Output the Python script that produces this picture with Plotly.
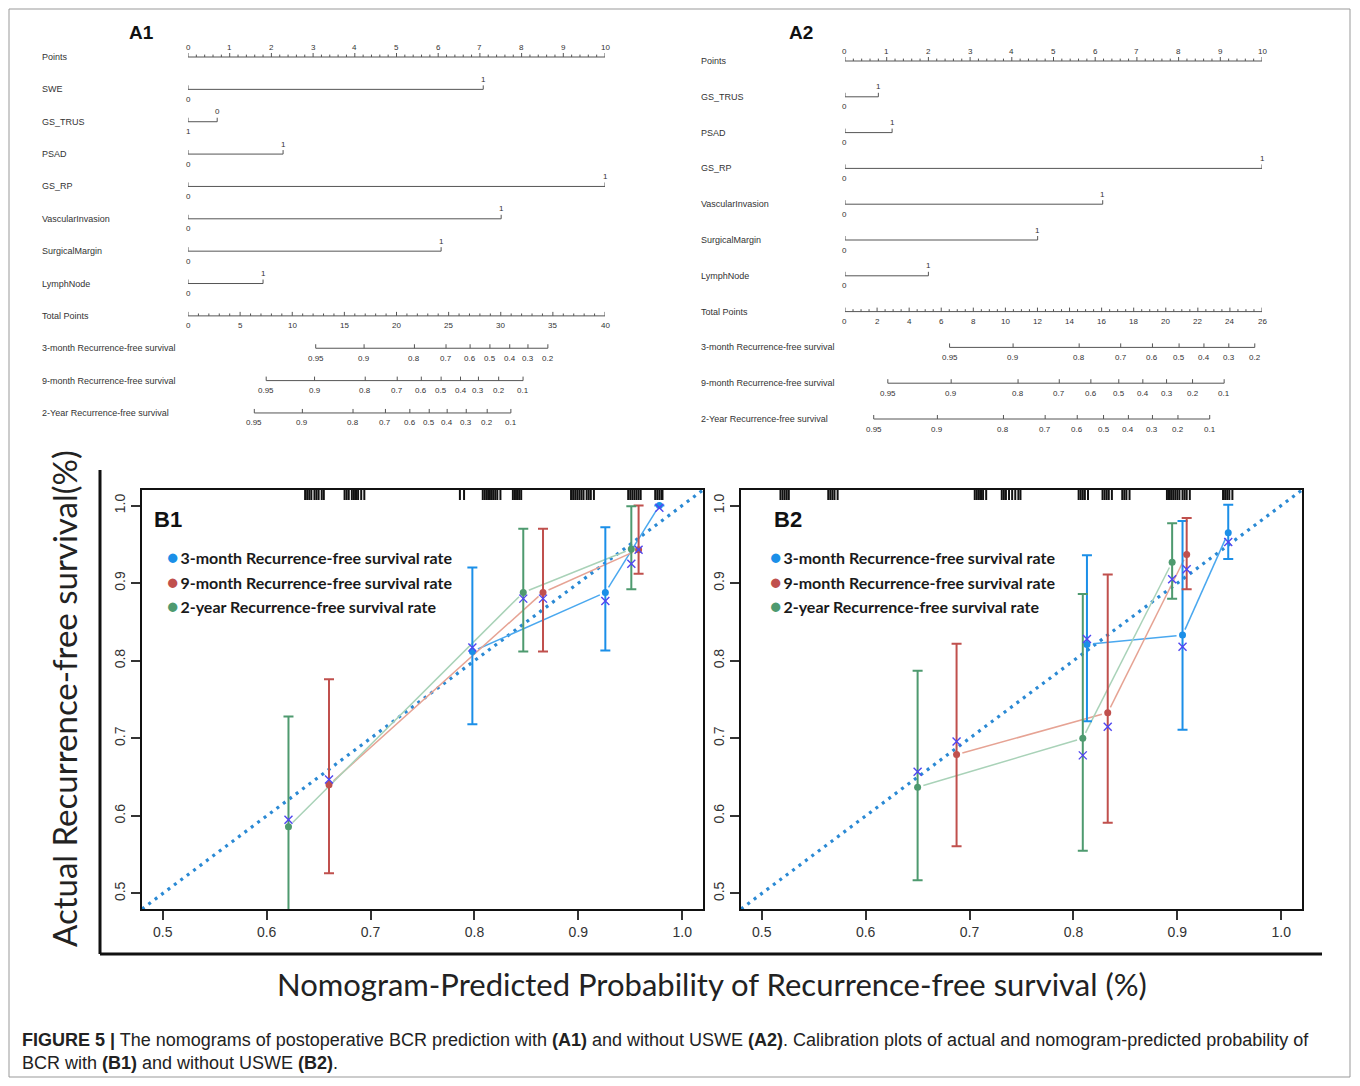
import plotly.graph_objects as go
import numpy as np

# page body has an 8px margin: the figure is sized so the page is exactly 1360x1086
OFF = 8
W, H = 1360 - 2 * OFF, 1086 - 2 * OFF

# ---------------- Nomogram A1 (with USWE) ----------------
a1_vars = ["SWE", "GS_TRUS", "PSAD", "GS_RP", "VascularInvasion", "SurgicalMargin", "LymphNode"]
a1_level_labels = [["0", "1"], ["1", "0"], ["0", "1"], ["0", "1"], ["0", "1"], ["0", "1"], ["0", "1"]]
a1_level_points = [[0, 7.08], [0, 0.70], [0, 2.28], [0, 10.0], [0, 7.51], [0, 6.07], [0, 1.80]]
a1_total_max = 40
a1_surv_names = ["3-month Recurrence-free survival", "9-month Recurrence-free survival",
                 "2-Year Recurrence-free survival"]
a1_surv_labels = [["0.95", "0.9", "0.8", "0.7", "0.6", "0.5", "0.4", "0.3", "0.2"],
                  ["0.95", "0.9", "0.8", "0.7", "0.6", "0.5", "0.4", "0.3", "0.2", "0.1"],
                  ["0.95", "0.9", "0.8", "0.7", "0.6", "0.5", "0.4", "0.3", "0.2", "0.1"]]
a1_surv_total = [[12.25, 16.89, 21.72, 24.75, 27.06, 28.96, 30.86, 32.61, 34.52],
                 [7.50, 12.14, 17.00, 20.07, 22.38, 24.28, 26.14, 27.86, 29.80, 32.14],
                 [6.36, 10.97, 15.83, 18.94, 21.28, 23.14, 24.86, 26.69, 28.70, 30.97]]

# ---------------- Nomogram A2 (without USWE) ----------------
a2_vars = ["GS_TRUS", "PSAD", "GS_RP", "VascularInvasion", "SurgicalMargin", "LymphNode"]
a2_level_labels = [["0", "1"], ["0", "1"], ["0", "1"], ["0", "1"], ["0", "1"], ["0", "1"]]
a2_level_points = [[0, 0.80], [0, 1.13], [0, 10.0], [0, 6.18], [0, 4.62], [0, 2.00]]
a2_total_max = 26
a2_surv_names = a1_surv_names
a2_surv_labels = a1_surv_labels
a2_surv_total = [[6.52, 10.48, 14.60, 17.19, 19.17, 20.83, 22.38, 23.93, 25.55],
                 [2.67, 6.62, 10.79, 13.36, 15.33, 17.07, 18.57, 20.05, 21.67, 23.64],
                 [1.79, 5.76, 9.88, 12.48, 14.48, 16.12, 17.67, 19.17, 20.76, 22.74]]

# ---------------- Calibration B1 (with USWE) ----------------
b1_3m_x = [0.798, 0.926, 0.978]
b1_3m_y = [0.812, 0.888, 1.000]
b1_3m_lo = [0.718, 0.813, 1.000]
b1_3m_hi = [0.920, 0.972, 1.000]
b1_3m_corr = [0.817, 0.877, 0.997]
b1_9m_x = [0.660, 0.866, 0.958]
b1_9m_y = [0.640, 0.888, 0.943]
b1_9m_lo = [0.526, 0.812, 0.912]
b1_9m_hi = [0.776, 0.970, 1.000]
b1_9m_corr = [0.647, 0.880, 0.943]
b1_2y_x = [0.621, 0.847, 0.951]
b1_2y_y = [0.586, 0.888, 0.944]
b1_2y_lo = [0.440, 0.812, 0.892]
b1_2y_hi = [0.728, 0.970, 0.999]
b1_2y_corr = [0.595, 0.880, 0.925]
b1_rug = [0.637, 0.639, 0.641, 0.643, 0.646, 0.648, 0.650, 0.653, 0.655,
          0.675, 0.677, 0.679, 0.682, 0.684, 0.686, 0.688, 0.691, 0.694,
          0.786, 0.790,
          0.808, 0.810, 0.812, 0.814, 0.816, 0.818, 0.820, 0.822, 0.825,
          0.837, 0.839, 0.841, 0.843, 0.845,
          0.893, 0.895, 0.897, 0.899, 0.901, 0.903, 0.905, 0.908, 0.910, 0.912, 0.915,
          0.948, 0.950, 0.952, 0.954, 0.956, 0.958, 0.960,
          0.974, 0.976, 0.978, 0.980, 0.981]

# ---------------- Calibration B2 (without USWE) ----------------
b2_3m_x = [0.813, 0.905, 0.949]
b2_3m_y = [0.821, 0.833, 0.965]
b2_3m_lo = [0.722, 0.711, 0.931]
b2_3m_hi = [0.936, 0.980, 1.001]
b2_3m_corr = [0.828, 0.818, 0.953]
b2_9m_x = [0.6875, 0.833, 0.909]
b2_9m_y = [0.679, 0.733, 0.937]
b2_9m_lo = [0.561, 0.591, 0.892]
b2_9m_hi = [0.822, 0.911, 0.984]
b2_9m_corr = [0.696, 0.715, 0.918]
b2_2y_x = [0.650, 0.809, 0.895]
b2_2y_y = [0.637, 0.700, 0.927]
b2_2y_lo = [0.517, 0.555, 0.880]
b2_2y_hi = [0.787, 0.886, 0.977]
b2_2y_corr = [0.657, 0.678, 0.905]
b2_rug = [0.518, 0.520, 0.522, 0.524, 0.526,
          0.564, 0.566, 0.568, 0.570, 0.573,
          0.705, 0.707, 0.709, 0.711, 0.713, 0.716,
          0.731, 0.733, 0.735, 0.738, 0.741, 0.744, 0.747, 0.749,
          0.805, 0.807, 0.809, 0.811, 0.814,
          0.828, 0.830, 0.832, 0.834, 0.837,
          0.847, 0.849, 0.851, 0.854,
          0.890, 0.892, 0.894, 0.896, 0.898, 0.900, 0.902, 0.905, 0.907, 0.909, 0.912,
          0.944, 0.946, 0.948, 0.950, 0.953]

series_names = ["3-month Recurrence-free survival rate", "9-month Recurrence-free survival rate",
                "2-year Recurrence-free survival rate"]
cal_range = [0.48, 1.02]
cal_ticks = [0.5, 0.6, 0.7, 0.8, 0.9, 1.0]

# ---------------- styling ----------------
C_DOT = ["#1b8fe8", "#c0504d", "#4e9a6f"]
C_LINE = ["#4aa8ef", "#e6a394", "#a9d2b8"]
C_CROSS = "#5046f0"
C_DIAG = "#2a89d4"
NOMO_C = "#555555"
TXT = "#333333"
FONT = "Liberation Sans, Arial, sans-serif"

fig = go.Figure()
ann = []
shapes = []


def px2x(p):
    return (p - OFF) / W


def px2y(p):
    return 1 - (p - OFF) / H


def seg_trace(pairs, xa, ya, color=NOMO_C, width=1):
    xs, ys = [], []
    for (x0, y0), (x1, y1) in pairs:
        xs += [x0, x1, None]
        ys += [y0, y1, None]
    fig.add_trace(go.Scatter(x=xs, y=ys, mode="lines", xaxis=xa, yaxis=ya,
                             line=dict(color=color, width=width), hoverinfo="skip"))


def num_label(x, y, txt, xa, ya, shift, size=8):
    ann.append(dict(x=x, y=y, xref=xa, yref=ya, text=txt, showarrow=False, yshift=shift,
                    xanchor="center", yanchor="middle",
                    font=dict(family=FONT, size=size, color=TXT)))


def draw_nomogram(xa, xt, ya, row_px, label_x_px, names, lvl_labels, lvl_points,
                  total_max, total_major, total_minor, surv_names, surv_labels, surv_total):
    tk = 4.0 / row_px  # tick length in row units
    rows_lbl = ["Points"] + names + ["Total Points"] + surv_names
    for i, nm in enumerate(rows_lbl):
        ann.append(dict(x=px2x(label_x_px), y=i, xref="paper", yref=ya, text=nm, showarrow=False,
                        xanchor="left", yanchor="middle",
                        font=dict(family=FONT, size=9, color=TXT)))
    # Points axis
    pairs = [((0, 0), (10, 0))]
    for v in np.arange(0, 10.01, 0.2):
        major = abs(v - round(v)) < 1e-6
        pairs.append(((v, 0), (v, -tk if major else -tk * 0.6)))
    seg_trace(pairs, xa, ya)
    for v in range(0, 11):
        num_label(v, 0, str(v), xa, ya, 10)
    # variables
    for j, (labs, pts) in enumerate(zip(lvl_labels, lvl_points)):
        r = j + 1
        pairs = [((min(pts), r), (max(pts), r))]
        for p in pts:
            pairs.append(((p, r), (p, r - tk)))
        seg_trace(pairs, xa, ya)
        order = np.argsort(pts)
        num_label(pts[order[0]], r, labs[order[0]], xa, ya, -10)
        num_label(pts[order[1]], r, labs[order[1]], xa, ya, 10)
    # total points
    r = len(names) + 1
    pairs = [((0, r), (total_max, r))]
    for v in np.arange(0, total_max + 1e-6, total_minor):
        major = abs(v / total_major - round(v / total_major)) < 1e-6
        pairs.append(((v, r), (v, r - (tk if major else tk * 0.6))))
    seg_trace(pairs, xt, ya)
    for v in range(0, total_max + 1, total_major):
        num_label(v, r, str(v), xt, ya, -10)
    # survival scales
    for k, (labs, tp) in enumerate(zip(surv_labels, surv_total)):
        rr = r + 1 + k
        pairs = [((min(tp), rr), (max(tp), rr))]
        for v in tp:
            pairs.append(((v, rr), (v, rr - tk)))
        seg_trace(pairs, xt, ya)
        for v, lab in zip(tp, labs):
            num_label(v, rr, lab, xt, ya, -10)


A1_ROW0, A1_STEP = 57.0, 32.36
A2_ROW0, A2_STEP = 61.0, 35.8
NOM_TOP, NOM_BOT = 30.0, 445.0

draw_nomogram("x", "x2", "y", A1_STEP, 40, a1_vars, a1_level_labels, a1_level_points,
              a1_total_max, 5, 1, a1_surv_names, a1_surv_labels, a1_surv_total)
draw_nomogram("x3", "x4", "y2", A2_STEP, 699, a2_vars, a2_level_labels, a2_level_points,
              a2_total_max, 2, 0.5, a2_surv_names, a2_surv_labels, a2_surv_total)


# ---------------- calibration panels ----------------
def shortened_segments(xs, ys, xa_len_px, ya_len_px, gap=6.0):
    sx = xa_len_px / (cal_range[1] - cal_range[0])
    sy = ya_len_px / (cal_range[1] - cal_range[0])
    ox, oy = [], []
    for i in range(len(xs) - 1):
        dx, dy = xs[i + 1] - xs[i], ys[i + 1] - ys[i]
        L = np.hypot(dx * sx, dy * sy)
        t = min(gap / L, 0.45) if L > 0 else 0
        ox += [xs[i] + t * dx, xs[i + 1] - t * dx, None]
        oy += [ys[i] + t * dy, ys[i + 1] - t * dy, None]
    return ox, oy


def draw_cal(xa, ya, series, rug, box_w, box_h):
    fig.add_trace(go.Scatter(x=cal_range, y=cal_range, mode="lines", xaxis=xa, yaxis=ya,
                             line=dict(color=C_DIAG, width=3.2, dash="3px,5px"), hoverinfo="skip"))
    rx, ry = [], []
    top = cal_range[1]
    rl = 10.0 / box_h * (cal_range[1] - cal_range[0])
    for v in rug:
        rx += [v, v, None]
        ry += [top, top - rl, None]
    fig.add_trace(go.Scatter(x=rx, y=ry, mode="lines", xaxis=xa, yaxis=ya,
                             line=dict(color="#111", width=2), hoverinfo="skip"))
    for k, (x, y, lo, hi, corr) in enumerate(series):
        lx, ly = shortened_segments(x, y, box_w, box_h)
        fig.add_trace(go.Scatter(x=lx, y=ly, mode="lines", xaxis=xa, yaxis=ya,
                                 line=dict(color=C_LINE[k], width=1.5), hoverinfo="skip"))
    for k, (x, y, lo, hi, corr) in enumerate(series):
        fig.add_trace(go.Scatter(
            x=x, y=y, mode="markers", xaxis=xa, yaxis=ya, name=series_names[k],
            marker=dict(size=7, color=C_DOT[k]),
            error_y=dict(type="data", symmetric=False,
                         array=[h - v for h, v in zip(hi, y)],
                         arrayminus=[v - l for v, l in zip(y, lo)],
                         color=C_DOT[k], thickness=2, width=5)))
    for k, (x, y, lo, hi, corr) in enumerate(series):
        fig.add_trace(go.Scatter(
            x=x, y=corr, mode="markers", xaxis=xa, yaxis=ya,
            marker=dict(symbol="x-thin", size=8, line=dict(width=1.4, color=C_CROSS))))


B_TOP, B_BOT = 490.0, 909.0
B1_L, B1_R = 142.0, 703.0
B2_L, B2_R = 741.0, 1302.0

draw_cal("x5", "y3",
         [(b1_3m_x, b1_3m_y, b1_3m_lo, b1_3m_hi, b1_3m_corr),
          (b1_9m_x, b1_9m_y, b1_9m_lo, b1_9m_hi, b1_9m_corr),
          (b1_2y_x, b1_2y_y, b1_2y_lo, b1_2y_hi, b1_2y_corr)],
         b1_rug, B1_R - B1_L, B_BOT - B_TOP)
draw_cal("x6", "y4",
         [(b2_3m_x, b2_3m_y, b2_3m_lo, b2_3m_hi, b2_3m_corr),
          (b2_9m_x, b2_9m_y, b2_9m_lo, b2_9m_hi, b2_9m_corr),
          (b2_2y_x, b2_2y_y, b2_2y_lo, b2_2y_hi, b2_2y_corr)],
         b2_rug, B2_R - B2_L, B_BOT - B_TOP)

LEG_FONT = "Lato, Open Sans, sans-serif"
for left in (165, 768):
    for k, (nm, ypx) in enumerate(zip(series_names, (556, 581, 605))):
        ann.append(dict(x=px2x(left), y=px2y(ypx), xref="paper", yref="paper", showarrow=False,
                        xanchor="left", yanchor="middle",
                        text='<span style="color:%s;font-size:19px">●</span>\u2009<b>%s</b>' % (C_DOT[k], nm),
                        font=dict(family=LEG_FONT, size=16, color="#1a1a1a")))

for txt, xpx in (("<b>B1</b>", 152), ("<b>B2</b>", 772)):
    ann.append(dict(x=px2x(xpx), y=px2y(520), xref="paper", yref="paper", showarrow=False,
                    xanchor="left", yanchor="middle", text=txt,
                    font=dict(family=FONT, size=22, color="#111")))
for txt, xpx in (("<b>A1</b>", 127), ("<b>A2</b>", 787)):
    ann.append(dict(x=px2x(xpx), y=px2y(33), xref="paper", yref="paper", showarrow=False,
                    xanchor="left", yanchor="middle", text=txt,
                    font=dict(family=FONT, size=19, color="#111")))

ann.append(dict(x=px2x(64), y=px2y(699), xref="paper", yref="paper", showarrow=False, textangle=-90,
                xanchor="center", yanchor="middle",
                text="Actual Recurrence-free survival(%)",
                font=dict(family=LEG_FONT, size=33, color="#222")))
ann.append(dict(x=px2x(712), y=px2y(984), xref="paper", yref="paper", showarrow=False,
                xanchor="center", yanchor="middle",
                text="Nomogram-Predicted Probability of Recurrence-free survival (%)",
                font=dict(family=LEG_FONT, size=31, color="#222")))

CAP_FONT = "Liberation Sans, Arial, sans-serif"
ann.append(dict(x=px2x(20), y=px2y(1040), xref="paper", yref="paper", showarrow=False,
                xanchor="left", yanchor="middle",
                text="<b>FIGURE 5 |</b> The nomograms of postoperative BCR prediction with <b>(A1)</b> "
                     "and without USWE <b>(A2)</b>. Calibration plots of actual and nomogram-predicted "
                     "probability of",
                font=dict(family=CAP_FONT, size=18, color="#222")))
ann.append(dict(x=px2x(20), y=px2y(1063), xref="paper", yref="paper", showarrow=False,
                xanchor="left", yanchor="middle",
                text="BCR with <b>(B1)</b> and without USWE <b>(B2)</b>.",
                font=dict(family=CAP_FONT, size=18, color="#222")))

shapes.append(dict(type="rect", xref="paper", yref="paper", x0=px2x(9), x1=px2x(1350),
                   y0=px2y(1077), y1=px2y(9), line=dict(color="#999", width=1)))
shapes.append(dict(type="line", xref="paper", yref="paper", x0=px2x(100), x1=px2x(100),
                   y0=px2y(470), y1=px2y(954), line=dict(color="#111", width=3)))
shapes.append(dict(type="line", xref="paper", yref="paper", x0=px2x(100), x1=px2x(1322),
                   y0=px2y(954), y1=px2y(954), line=dict(color="#111", width=3)))

hidden = dict(visible=False, showgrid=False, zeroline=False, fixedrange=True)


def nomo_y(row0, step):
    return dict(hidden, domain=[px2y(NOM_BOT), px2y(NOM_TOP)],
                range=[(NOM_BOT - row0) / step, (NOM_TOP - row0) / step])


cal_x = dict(range=cal_range, tickvals=cal_ticks, ticktext=["%.1f" % v for v in cal_ticks],
             ticks="outside", ticklen=9, tickwidth=1.5, tickcolor="#333",
             showline=True, mirror=True, linewidth=2, linecolor="#111",
             showgrid=False, zeroline=False, fixedrange=True,
             tickfont=dict(family=FONT, size=14, color="#333"))
cal_y = dict(cal_x, tickangle=-90)

fig.update_layout(
    width=W, height=H, margin=dict(l=0, r=0, t=0, b=0),
    paper_bgcolor="white", plot_bgcolor="rgba(0,0,0,0)", showlegend=False,
    xaxis=dict(hidden, domain=[px2x(188), px2x(605)], range=[0, 10], anchor="y"),
    xaxis2=dict(hidden, domain=[px2x(188), px2x(605)], range=[0, a1_total_max], anchor="y"),
    yaxis=dict(nomo_y(A1_ROW0, A1_STEP), anchor="x"),
    xaxis3=dict(hidden, domain=[px2x(845), px2x(1262)], range=[0, 10], anchor="y2"),
    xaxis4=dict(hidden, domain=[px2x(845), px2x(1262)], range=[0, a2_total_max], anchor="y2"),
    yaxis2=dict(nomo_y(A2_ROW0, A2_STEP), anchor="x3"),
    xaxis5=dict(cal_x, domain=[px2x(B1_L), px2x(B1_R)], anchor="y3"),
    yaxis3=dict(cal_y, domain=[px2y(B_BOT), px2y(B_TOP)], anchor="x5"),
    xaxis6=dict(cal_x, domain=[px2x(B2_L), px2x(B2_R)], anchor="y4"),
    yaxis4=dict(cal_y, domain=[px2y(B_BOT), px2y(B_TOP)], anchor="x6"),
    annotations=ann, shapes=shapes,
)

fig.write_html("out.html")
